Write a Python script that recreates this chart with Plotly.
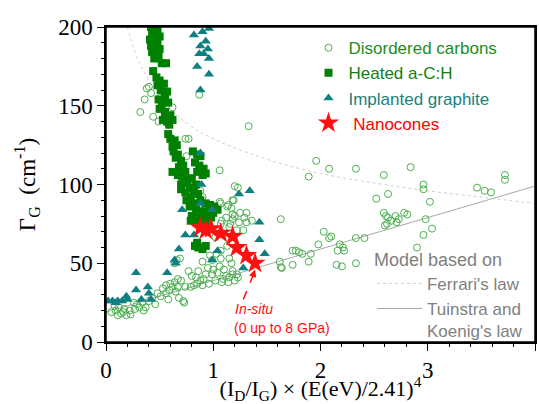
import plotly.graph_objects as go

# Disordered carbons (open circles)
dc_x = [0.32, 0.36, 0.38, 0.40, 0.42, 0.44, 0.50, 0.49, 0.58, 0.62, 0.74, 0.77, 0.75, 0.87, 1.06, 1.23, 1.33,
        1.96, 1.89, 2.08, 2.33, 2.59, 2.84, 2.96, 2.96, 2.63, 3.46, 3.53, 3.59, 3.72, 3.72, 2.52, 3.02,
        2.59, 2.61, 2.63, 2.66, 2.62, 2.60, 2.70, 2.73, 2.78, 2.81, 2.71, 2.98, 3.04, 2.96, 2.90,
        1.63, 2.03, 2.08, 2.10, 1.98, 2.33, 2.41, 2.18, 2.21, 2.16, 2.22, 1.77, 1.80, 1.83, 1.91, 1.74,
        1.89, 1.62, 1.63, 2.15, 2.20, 2.33, 1.74, 1.64,
        1.19, 1.17, 1.20, 1.06, 1.14, 1.18, 1.25, 1.31, 1.29, 1.20, 1.12, 1.08, 1.24, 1.31, 1.36, 1.28,
        1.22, 1.15, 1.07, 1.13, 1.18, 1.18, 1.16, 1.07, 1.09, 1.02, 1.07, 1.13, 1.18,
        0.88, 0.81, 0.85, 0.90, 0.92, 0.87, 0.89,
        0.09, 0.14, 0.19, 0.23, 0.17, 0.12, 0.08, 0.22, 0.29, 0.31, 0.37, 0.26, 0.34, 0.40, 0.43, 0.48,
        0.51, 0.56, 0.59, 0.62, 0.67, 0.64, 0.60, 0.56, 0.67, 0.70, 0.73, 0.68, 0.65, 0.74, 0.79, 0.82,
        0.85, 0.88, 0.91, 0.93, 0.99, 1.04, 0.84, 0.90, 0.96, 1.02, 1.09, 1.15, 1.18, 0.90, 0.99, 1.07,
        1.15, 1.17, 1.22, 1.23, 1.18, 1.06, 1.10, 1.12, 1.14, 1.20, 1.08, 0.69, 0.66, 0.64, 0.72, 0.80,
        0.77, 0.95, 1.00, 0.86, 0.97, 1.03, 0.58, 0.46, 0.53, 0.05, 0.11, 0.16, 0.27, 0.35]
dc_y = [146, 154, 161, 162, 158, 143, 155, 140, 138, 149, 129, 129, 118, 157, 109, 98, 137,
        115, 105, 110, 110, 106, 111, 100, 97, 94, 98, 96, 95, 106, 103, 91, 89,
        82, 80, 79, 77, 75, 74, 80, 78, 82, 81, 76, 78, 72, 68, 60,
        78, 70, 66, 67, 62, 66, 66, 62, 60, 58, 58, 58, 57, 56, 56, 49,
        51, 51, 47.5, 49, 48, 50, 58, 47,
        90, 85, 99, 89, 87, 90, 82, 82, 79, 80, 79, 77, 76, 76, 77, 71,
        71, 73, 88, 86, 81, 78, 75, 75, 68, 66.5, 58, 61, 63,
        96, 96, 90, 92, 85, 80, 72,
        20, 18, 17, 17.5, 21, 22, 23, 20, 24, 22, 22, 25, 25, 26, 28, 31,
        29, 31, 33, 35, 35, 38, 37, 36, 40, 39, 25, 28, 32, 35, 35, 36,
        37, 39, 40, 43, 43, 44, 41, 36, 37, 39, 40, 41, 43, 51, 52, 53,
        53, 50, 43, 41, 45, 48, 46, 42, 38, 39, 38, 53, 52, 50, 26, 42,
        45, 47, 46, 45, 55, 56, 27, 24, 34, 19, 17, 19, 21, 20]

# Heated a-C:H (filled squares)
ha_x = [0.42, 0.45, 0.48, 0.43, 0.47, 0.50, 0.41, 0.44, 0.48, 0.42, 0.46, 0.50, 0.43, 0.47, 0.45, 0.49,
        0.52, 0.56, 0.44, 0.47, 0.50, 0.48, 0.51, 0.54, 0.57, 0.55, 0.49, 0.52, 0.58, 0.50, 0.55, 0.60,
        0.53, 0.57, 0.62, 0.59, 0.58, 0.60, 0.64, 0.62, 0.66, 0.63, 0.67, 0.65, 0.70, 0.68, 0.72, 0.67,
        0.71, 0.74, 0.73, 0.81, 0.85, 0.88, 0.83, 0.87, 0.91, 0.85, 0.90, 0.93, 0.62, 0.76, 0.80, 0.84,
        0.70, 0.78, 0.82, 0.74, 0.79, 0.86, 0.70, 0.75, 0.82, 0.88, 0.93, 0.97, 1.01, 1.04, 0.78, 0.84,
        0.90, 0.95, 1.00, 0.80, 0.86, 0.92, 0.98, 0.88, 0.93, 0.84, 0.79, 0.83, 0.86, 0.90, 0.93, 0.85]
ha_y = [200, 199, 198, 196, 195, 194, 192, 191, 190, 188, 187, 186, 184, 183, 180, 181,
        177, 177, 172, 168, 166, 163, 160, 164, 159, 155, 154, 151, 152, 148, 146, 144,
        141, 140, 141, 138, 132, 129, 128, 124, 125, 121, 119, 117, 115, 111, 112, 106,
        105, 108, 103, 121, 119, 118, 114, 112, 110, 108, 106, 107, 108, 101, 104, 100,
        100, 98, 96, 95, 92, 94, 97, 90, 88, 90, 88, 87, 86, 84, 86, 84,
        83, 82, 82, 80, 79, 80, 79, 76, 75, 77, 77, 61, 60, 59, 61, 63]

# Implanted graphite (filled triangles)
ig_x = [0.82, 0.90, 0.96, 0.88, 0.93, 0.95, 0.87, 0.91, 0.96, 0.85, 0.96, 0.88,
        0.88, 0.89, 1.24, 1.34, 0.88, 0.71, 0.99, 1.43, 1.43, 0.74, 0.82, 0.68, 1.04, 1.48,
        0.64, 0.65, 0.99, 1.28, 0.57, 0.28, 0.39, 0.28, 0.19, 0.20, 0.33, 0.40, 0.06, 0.11,
        0.09, 0.15, 0.42, 0.02]
ig_y = [195, 197, 199, 188, 191, 186, 183, 183, 180, 175, 170, 160,
        120, 100, 94, 96, 88, 84, 84, 76, 65, 68, 68, 59, 58, 56,
        52, 50, 52, 47, 44, 44, 35, 33, 29, 27, 27, 31, 26, 26,
        25, 26, 27, 26]

# Nanocones (stars), in-situ 0 up to 8 GPa
nc_x = [0.88, 0.93, 0.98, 1.07, 1.18, 1.22, 1.31, 1.39]
nc_y = [72.5, 71, 72, 69, 67, 60, 55, 50]

# model curves
ferrari_x = [0.2, 0.3, 0.5, 0.75, 1.0, 1.5, 2.0, 2.5, 3.0, 3.5, 4.0]
ferrari_y = [200, 179, 156, 139, 129, 116, 107, 101, 96, 92, 88]
tk_x = [0, 4]
tk_y = [19, 99]

arrow_x = [1.28, 1.37]
arrow_y = [27, 42]
arrow_tip = (1.39, 46)

x_range = [0, 4]
y_range = [0, 200]

serif = 'Liberation Serif'
sans = 'Liberation Sans'

fig = go.Figure()

fig.add_trace(go.Scatter(
    x=ferrari_x, y=ferrari_y, mode='lines', line=dict(color='#cfcfcf', width=1, dash='dot', shape='spline'),
    name="Ferrari's law", legend='legend2'))
fig.add_trace(go.Scatter(
    x=tk_x, y=tk_y, mode='lines', line=dict(color='#a8a8a8', width=1),
    name="Tuinstra and<br>Koenig's law", legend='legend2'))

fig.add_trace(go.Scatter(
    x=dc_x, y=dc_y, mode='markers', name='<span style="color:#1e8c1e">Disordered carbons</span>',
    marker=dict(symbol='circle-open', size=7, color='#4caf50', line=dict(width=1))))
fig.add_trace(go.Scatter(
    x=ha_x, y=ha_y, mode='markers', name='<span style="color:#108010">Heated a-C:H</span>',
    marker=dict(symbol='square', size=8, color='#008000')))
fig.add_trace(go.Scatter(
    x=ig_x, y=ig_y, mode='markers', name='<span style="color:#1a8080">Implanted graphite</span>',
    marker=dict(symbol='triangle-up', size=9, color='#0f7f80')))
fig.add_trace(go.Scatter(
    x=nc_x, y=nc_y, mode='markers', name='<span style="color:#ff0000">&nbsp;Nanocones</span>',
    marker=dict(symbol='star', size=16, color='#ff1010', line=dict(width=0))))

# dashed red pointer to the nanocone series
fig.add_trace(go.Scatter(
    x=arrow_x, y=arrow_y, mode='lines', showlegend=False, hoverinfo='skip',
    line=dict(color='#ff1010', width=1.5, dash='dash')))
fig.add_annotation(x=arrow_tip[0], y=arrow_tip[1], ax=arrow_x[1], ay=arrow_y[1], axref='x', ayref='y',
                   text='', showarrow=True, arrowhead=2, arrowsize=1, arrowwidth=1.5,
                   arrowcolor='#ff1010')

fig.add_annotation(x=1.38, y=21, text='<i>In-situ</i>', showarrow=False,
                   font=dict(family=sans, size=14, color='#ff1010'))
fig.add_annotation(x=1.64, y=9, text='(0 up to 8 GPa)', showarrow=False,
                   font=dict(family=sans, size=14, color='#ff1010'))

# plot frame
fig.add_shape(type='rect', xref='paper', yref='paper', x0=0, x1=1, y0=0, y1=1,
              line=dict(color='black', width=1.5), layer='above')

axis_style = dict(showline=True, linecolor='black', linewidth=1.5, mirror=True, ticks='outside',
                  ticklen=7, tickwidth=1.2, tickcolor='black', showgrid=False, zeroline=False,
                  tickfont=dict(family=serif, size=23, color='black'))

# minor ticks come from overlaid axes with no labels
minor_style = dict(ticks='outside', ticklen=4, tickwidth=1, tickcolor='black', showticklabels=False,
                   showgrid=False, zeroline=False, showline=False)

fig.update_layout(
    width=539, height=404,
    margin=dict(l=106, r=4, t=27, b=62, autoexpand=False),
    plot_bgcolor='white', paper_bgcolor='white',
    xaxis=dict(range=x_range, dtick=1,
               title=dict(text='(I<sub>D</sub>/I<sub>G</sub>) × (E(eV)/2.41)<sup>4</sup>',
                          font=dict(family=serif, size=22, color='black'), standoff=2),
               **axis_style),
    yaxis=dict(range=y_range, dtick=50,
               title=dict(text='Γ<sub>G</sub>  (cm<sup>-1</sup>)',
                          font=dict(family=serif, size=23, color='black'), standoff=16),
               **axis_style),
    xaxis2=dict(overlaying='x', matches='x', side='bottom', dtick=0.2, anchor='y', **minor_style),
    yaxis2=dict(overlaying='y', matches='y', side='left', dtick=10, anchor='x', **minor_style),
    legend=dict(x=0.472, y=0.99, xanchor='left', yanchor='top', bgcolor='rgba(0,0,0,0)',
                font=dict(family=sans, size=17), tracegroupgap=0, itemsizing='trace'),
    legend2=dict(x=0.62, y=0.316, xanchor='left', yanchor='top', bgcolor='rgba(0,0,0,0)',
                 title=dict(text='Model based on', font=dict(family=sans, size=18, color='#7f7f7f')),
                 font=dict(family=sans, size=17, color='#7f7f7f'), valign='top', itemwidth=45),
    showlegend=True,
)

# an empty trace so the minor-tick axes are drawn
fig.add_trace(go.Scatter(x=[], y=[], xaxis='x2', yaxis='y2', showlegend=False, hoverinfo='skip'))

fig.write_html("out.html", config={'displayModeBar': False},
               post_script="document.body.style.margin='0';document.body.style.overflow='hidden';")
